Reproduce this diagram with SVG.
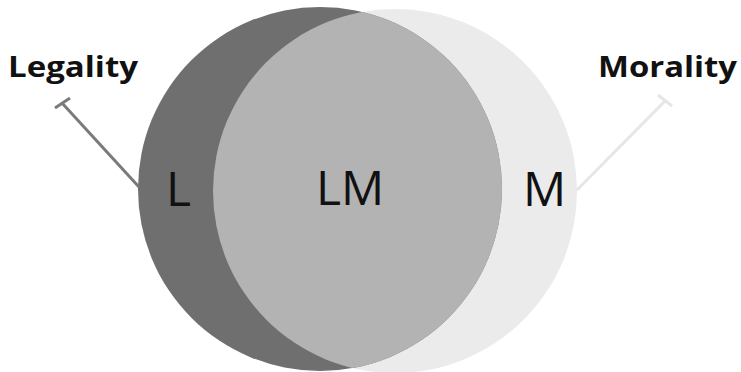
<svg xmlns="http://www.w3.org/2000/svg" width="741" height="372" viewBox="0 0 741 372">
<style>
.title{font-family:"Open Sans","Liberation Sans",sans-serif;font-weight:bold;font-size:29px;fill:#111}
.lab{font-family:"Open Sans","Liberation Sans",sans-serif;font-size:48px;fill:#111}
</style>
<defs>
<clipPath id="clipL"><circle cx="320" cy="189" r="182"/></clipPath>
</defs>
<rect width="741" height="372" fill="#fff"/>
<g id="morality-circle"><circle cx="395" cy="191" r="182" fill="#ebebeb"/></g>
<g id="legality-circle"><circle cx="320" cy="189" r="182" fill="#6f6f6f"/></g>
<g id="overlap"><circle cx="395" cy="191" r="182" fill="#b3b3b3" clip-path="url(#clipL)"/></g>
<g id="connectors">
<line x1="139" y1="187" x2="62" y2="103" stroke="#7a7a7a" stroke-width="3"/>
<line x1="55" y1="108" x2="70" y2="98" stroke="#7a7a7a" stroke-width="3"/>
<line x1="577" y1="190" x2="665" y2="101" stroke="#e6e6e6" stroke-width="3"/>
<line x1="658" y1="95" x2="672" y2="106" stroke="#e6e6e6" stroke-width="3"/>
</g>
<g id="legality-label"><text class="title" x="8" y="77" textLength="130" lengthAdjust="spacingAndGlyphs">Legality</text></g>
<g id="morality-label"><text class="title" x="598" y="77" textLength="139" lengthAdjust="spacingAndGlyphs">Morality</text></g>
<g id="L"><text class="lab" x="166" y="206">L</text></g>
<g id="LM"><text class="lab" x="316" y="205">LM</text></g>
<g id="M"><text class="lab" x="523" y="206">M</text></g>
</svg>
